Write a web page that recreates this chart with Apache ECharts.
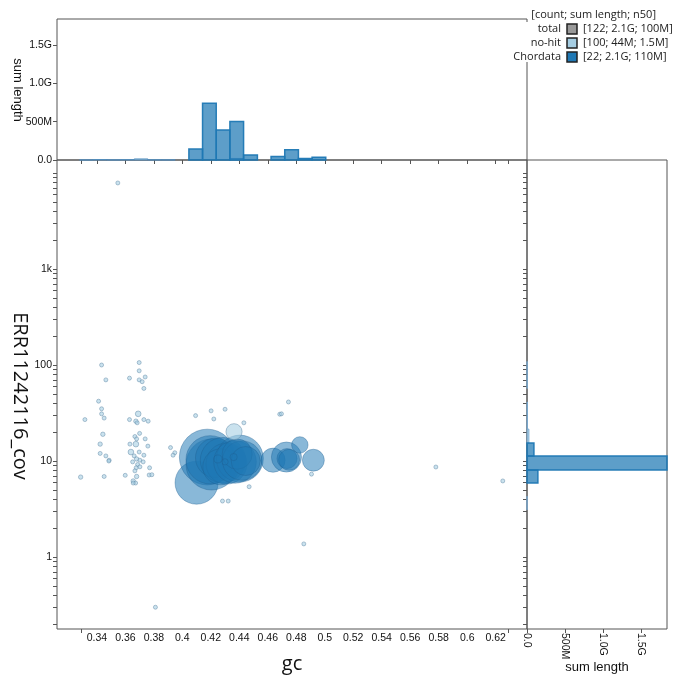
<!DOCTYPE html>
<html><head><meta charset="utf-8">
<script src="https://cdn.jsdelivr.net/npm/echarts@6/dist/echarts.min.js"></script>
<style>html,body{margin:0;padding:0;background:#fff}#c{width:680px;height:687px}</style>
</head><body><div id="c"></div>
<script>
// ---------- data ----------
const legendHeader = '[count; sum length; n50]';
const legendNames = ['total', 'no-hit', 'Chordata'];
const legendStats = ['[122; 2.1G; 100M]', '[100; 44M; 1.5M]', '[22; 2.1G; 110M]'];
const legendColors = ['#999999', '#a6cee3', '#1f78b4'];

// scatter points: [gc, coverage, length in Mb]
const chordataPoints = [
  [0.410, 5.95, 143], [0.4175, 11.0, 240], [0.4205, 9.2, 200], [0.4195, 10.3, 180],
  [0.423, 10.8, 119], [0.4286, 10.2, 160], [0.431, 9.4, 130], [0.427, 8.7, 100],
  [0.4404, 10.6, 170], [0.437, 9.8, 140], [0.442, 10.1, 120], [0.4385, 11.8, 70],
  [0.4445, 10.0, 65], [0.4637, 10.2, 45], [0.4731, 11.0, 70], [0.4735, 10.6, 31],
  [0.475, 10.3, 34], [0.4825, 14.7, 21], [0.492, 10.2, 37], [0.425, 10.5, 5],
  [0.436, 11.0, 4], [0.430, 9.8, 3]
];
const noHitPoints = [
  [0.3433, 100, 0.5], [0.3463, 70, 0.5], [0.3412, 42, 0.5], [0.3433, 35, 0.5], [0.3433, 31, 0.5],
  [0.3451, 28, 0.5], [0.3316, 27, 0.5], [0.3442, 19, 1.5], [0.3423, 15, 1.5], [0.3423, 12, 0.5],
  [0.3463, 11.3, 0.5], [0.3486, 10.2, 0.5], [0.3484, 10.0, 0.5], [0.3286, 6.8, 1.5], [0.3451, 6.9, 0.5],
  [0.3697, 106, 0.5], [0.3697, 87, 0.5], [0.3629, 73, 0.5], [0.3739, 75, 1.2], [0.3697, 70, 0.5],
  [0.3718, 67, 0.5], [0.373, 57, 1.0], [0.369, 31, 2.5], [0.3629, 27, 0.5], [0.3674, 26, 1.5],
  [0.3683, 25, 0.5], [0.373, 27, 0.5], [0.376, 26, 0.5], [0.370, 19.4, 0.5], [0.3667, 18, 0.5],
  [0.3679, 17, 0.5], [0.3739, 17, 0.5], [0.3632, 15, 0.5], [0.3674, 15, 2.5], [0.3758, 14.3, 0.5],
  [0.3697, 12.4, 0.5], [0.3639, 12.4, 2.5], [0.3662, 11.3, 0.5], [0.373, 11.5, 0.5], [0.3679, 10.5, 1.5],
  [0.3702, 10.2, 0.5], [0.3651, 9.8, 0.5], [0.3686, 9.2, 0.5], [0.3725, 9.8, 0.5], [0.3676, 8.5, 0.5],
  [0.3702, 8.7, 0.5], [0.377, 8.5, 1.0], [0.3667, 7.9, 0.5], [0.3599, 7.1, 0.5], [0.3679, 6.9, 1.5],
  [0.3767, 7.15, 0.5], [0.3786, 7.2, 0.5], [0.3655, 6.2, 1.5], [0.3672, 5.9, 0.5], [0.3655, 5.9, 0.5],
  [0.4093, 29.7, 0.5], [0.4202, 33.3, 0.5], [0.4221, 27.4, 0.5], [0.430, 34.6, 0.5], [0.4432, 25.0, 0.5],
  [0.3917, 13.8, 0.5], [0.3947, 12.2, 0.5], [0.3935, 11.5, 0.5], [0.4282, 3.83, 0.5], [0.4322, 3.83, 0.5],
  [0.4469, 5.4, 1.0], [0.4684, 30.7, 0.5], [0.4696, 31, 0.5], [0.4745, 41.2, 0.5], [0.4907, 7.3, 0.5],
  [0.4363, 20.2, 20], [0.3547, 7870, 0.5], [0.3811, 0.30, 0.5], [0.4853, 1.37, 0.3], [0.578, 8.66, 1.2],
  [0.625, 6.2, 0.3]
];

// gc histogram bins: [gcLow, gcHigh, sum length in Mb]
const chordataGcHist = [
  [0.4046, 0.4142, 143], [0.4142, 0.4238, 739], [0.4238, 0.4334, 392], [0.4334, 0.4430, 502],
  [0.4430, 0.4527, 65], [0.4623, 0.4719, 45], [0.4719, 0.4815, 135], [0.4815, 0.4911, 21],
  [0.4911, 0.5007, 37]
];
const noHitGcHist = [
  [0.3278, 0.3374, 1], [0.3374, 0.3470, 6], [0.3470, 0.3566, 2], [0.3566, 0.3662, 5],
  [0.3662, 0.3758, 14], [0.3758, 0.3854, 3], [0.3854, 0.3950, 2], [0.4334, 0.4430, 20]
];
// coverage histogram bins: [covLow, covHigh, sum length in Mb]
const chordataCovHist = [
  [5.9, 8.06, 143], [8.06, 11.3, 1853], [11.3, 15.4, 91]
];
const noHitCovHist = [
  [3.1, 4.3, 1], [15.4, 21.5, 25], [21.5, 29.8, 5], [29.8, 41.2, 5], [57, 79, 3], [79, 109, 1.5]
];

// axes
const GC_MIN = 0.312, GC_MAX = 0.642;
const COV_MIN = 0.178, COV_MAX = 13650;
const SUM_MAX = 1.84e9;
const gcTicks = [0.34, 0.36, 0.38, 0.4, 0.42, 0.44, 0.46, 0.48, 0.5, 0.52, 0.54, 0.56, 0.58, 0.6, 0.62];
const gcOuterTicks = [0.3287, 0.6285];
const covLabelTicks = [1, 10, 100, 1000];
const covLabelText = ['1', '10', '100', '1k'];
const sumTicks = [0, 5e8, 1e9, 1.5e9];
const sumTickText = ['0.0', '500M', '1.0G', '1.5G'];

// ---------- chart ----------
const covMinorTicks = [];
for (let e = -1; e <= 4; e++) for (let m = 1; m <= 9; m++) {
  const v = m * Math.pow(10, e);
  if (v >= COV_MIN && v <= COV_MAX) covMinorTicks.push(+v.toPrecision(3));
}
const AX = '#555';
const LBL = { fontFamily: 'Liberation Sans', fontSize: 10.5, color: '#111' };
const M = 1e6;
function sizeOf(d) { return Math.max(4, 3.6 * Math.sqrt(d[2])); }

function clipRect(rect, cs) {
  return echarts.graphic.clipRectByRect(rect, { x: cs.x, y: cs.y, width: cs.width, height: cs.height });
}
function renderGcBar(params, api) {
  const p0 = api.coord([api.value(0), api.value(2)]);
  const p1 = api.coord([api.value(1), 0]);
  const r = clipRect({ x: p0[0], y: p0[1], width: p1[0] - p0[0], height: p1[1] - p0[1] }, params.coordSys);
  return r && { type: 'rect', shape: r, style: api.style() };
}
function renderCovBar(params, api) {
  const p0 = api.coord([0, api.value(1)]);
  const p1 = api.coord([api.value(2), api.value(0)]);
  const r = clipRect({ x: p0[0], y: p0[1], width: p1[0] - p0[0], height: p1[1] - p0[1] }, params.coordSys);
  return r && { type: 'rect', shape: r, style: api.style() };
}

const chart = echarts.init(document.getElementById('c'), null, { renderer: 'canvas' });
const gridBase = { show: true, borderColor: AX, borderWidth: 1, backgroundColor: 'transparent', containLabel: false, outerBoundsMode: 'none' };

const legendGraphics = [
  { type: 'rect', shape: { x: 518, y: 22, width: 162, height: 40 }, style: { fill: '#fff' }, z: 50 },
  { type: 'text', x: 656, y: 15, z: 51, style: { text: legendHeader, textAlign: 'right', textVerticalAlign: 'middle', fontFamily: 'Open Sans', fontSize: 11, fill: '#222' } }
];
legendNames.forEach((n, i) => {
  const yc = 29 + 14 * i;
  legendGraphics.push(
    { type: 'text', x: 561, y: yc, z: 51, style: { text: n, textAlign: 'right', textVerticalAlign: 'middle', fontFamily: 'Open Sans', fontSize: 11, fill: '#222' } },
    { type: 'rect', z: 51, shape: { x: 567, y: yc - 5, width: 10, height: 10 }, style: { fill: legendColors[i], stroke: '#222', lineWidth: 1.5 } },
    { type: 'text', x: 583, y: yc, z: 51, style: { text: legendStats[i], textAlign: 'left', textVerticalAlign: 'middle', fontFamily: 'Open Sans', fontSize: 11, fill: '#222' } }
  );
});

const option = {
  animation: false,
  backgroundColor: '#fff',
  grid: [
    Object.assign({ left: 57, top: 19, width: 470, height: 141 }, gridBase),
    Object.assign({ left: 57, top: 160, width: 470, height: 469 }, gridBase),
    Object.assign({ left: 527, top: 160, width: 140, height: 469 }, gridBase)
  ],
  xAxis: [
    { gridIndex: 0, type: 'value', min: GC_MIN, max: GC_MAX, splitLine: { show: false }, axisLine: { show: false },
      axisLabel: { show: false }, axisTick: { show: true, length: 4, lineStyle: { color: AX }, customValues: gcTicks.concat(gcOuterTicks) } },
    { gridIndex: 1, type: 'value', min: GC_MIN, max: GC_MAX, splitLine: { show: false }, axisLine: { show: false },
      axisLabel: Object.assign({ margin: 4, customValues: gcTicks, formatter: v => String(+v.toFixed(2)) }, LBL),
      axisTick: { show: true, length: 4, lineStyle: { color: AX }, customValues: gcOuterTicks } },
    { gridIndex: 2, type: 'value', min: 0, max: SUM_MAX, splitLine: { show: false }, axisLine: { show: false },
      axisLabel: Object.assign({ margin: 4, rotate: -90, customValues: sumTicks, formatter: v => sumTickText[sumTicks.indexOf(v)] }, LBL),
      axisTick: { show: true, length: 4, lineStyle: { color: AX }, customValues: sumTicks } }
  ],
  yAxis: [
    { gridIndex: 0, type: 'value', min: 0, max: SUM_MAX, splitLine: { show: false }, axisLine: { show: false },
      axisLabel: Object.assign({ margin: 5, customValues: sumTicks, formatter: v => sumTickText[sumTicks.indexOf(v)] }, LBL),
      axisTick: { show: true, length: 4, lineStyle: { color: AX }, customValues: sumTicks } },
    { gridIndex: 1, type: 'log', logBase: 10, min: COV_MIN, max: COV_MAX, splitLine: { show: false }, axisLine: { show: false },
      axisLabel: Object.assign({ margin: 5, customValues: covLabelTicks, formatter: v => covLabelText[covLabelTicks.indexOf(Math.round(v))] || '' }, LBL),
      axisTick: { show: true, length: 4, lineStyle: { color: AX }, customValues: covMinorTicks } },
    { gridIndex: 2, type: 'log', logBase: 10, min: COV_MIN, max: COV_MAX, splitLine: { show: false }, axisLine: { show: false },
      axisLabel: { show: false },
      axisTick: { show: true, length: 4, lineStyle: { color: AX }, customValues: covMinorTicks } }
  ],
  series: [
    { type: 'custom', name: 'no-hit gc', xAxisIndex: 0, yAxisIndex: 0, renderItem: renderGcBar, silent: true,
      encode: { x: [0, 1], y: 2 }, data: noHitGcHist.map(d => [d[0], d[1], d[2] * M]),
      itemStyle: { color: 'rgba(166,206,227,0.8)', borderColor: 'rgba(80,140,190,0.9)', borderWidth: 1 } },
    { type: 'custom', name: 'Chordata gc', xAxisIndex: 0, yAxisIndex: 0, renderItem: renderGcBar, silent: true,
      encode: { x: [0, 1], y: 2 }, data: chordataGcHist.map(d => [d[0], d[1], d[2] * M]),
      itemStyle: { color: 'rgba(31,120,180,0.72)', borderColor: 'rgba(31,120,180,0.95)', borderWidth: 1.5 } },
    { type: 'custom', name: 'no-hit cov', xAxisIndex: 2, yAxisIndex: 2, renderItem: renderCovBar, silent: true,
      encode: { x: 2, y: [0, 1] }, data: noHitCovHist.map(d => [d[0], d[1], d[2] * M]),
      itemStyle: { color: 'rgba(166,206,227,0.8)', borderColor: 'rgba(120,170,210,0.9)', borderWidth: 1 } },
    { type: 'custom', name: 'Chordata cov', xAxisIndex: 2, yAxisIndex: 2, renderItem: renderCovBar, silent: true,
      encode: { x: 2, y: [0, 1] }, data: chordataCovHist.map(d => [d[0], d[1], d[2] * M]),
      itemStyle: { color: 'rgba(31,120,180,0.72)', borderColor: 'rgba(31,120,180,0.95)', borderWidth: 1.5 } },
    { type: 'scatter', name: 'Chordata', xAxisIndex: 1, yAxisIndex: 1, silent: true, data: chordataPoints,
      symbolSize: sizeOf, itemStyle: { color: 'rgba(31,120,180,0.66)', borderColor: 'rgba(30,95,145,0.45)', borderWidth: 1 } },
    { type: 'scatter', name: 'no-hit', xAxisIndex: 1, yAxisIndex: 1, silent: true, data: noHitPoints,
      symbolSize: sizeOf, itemStyle: { color: 'rgba(166,206,227,0.75)', borderColor: 'rgba(95,135,165,0.75)', borderWidth: 0.8 } }
  ],
  graphic: legendGraphics.concat([
    { type: 'text', x: 20, y: 396, rotation: -Math.PI / 2, z: 51, style: { text: 'ERR11242116_cov', textAlign: 'center', textVerticalAlign: 'middle', fontFamily: 'Open Sans', fontSize: 20, fill: '#111' } },
    { type: 'text', x: 18, y: 90, rotation: -Math.PI / 2, z: 51, style: { text: 'sum length', textAlign: 'center', textVerticalAlign: 'middle', fontFamily: 'Liberation Sans', fontSize: 13, fill: '#111' } },
    { type: 'text', x: 292, y: 664, z: 51, style: { text: 'gc', textAlign: 'center', textVerticalAlign: 'middle', fontFamily: 'Open Sans', fontSize: 20, fill: '#111' } },
    { type: 'text', x: 597, y: 667, z: 51, style: { text: 'sum length', textAlign: 'center', textVerticalAlign: 'middle', fontFamily: 'Liberation Sans', fontSize: 13, fill: '#111' } }
  ])
};
chart.setOption(option);
</script></body></html>
